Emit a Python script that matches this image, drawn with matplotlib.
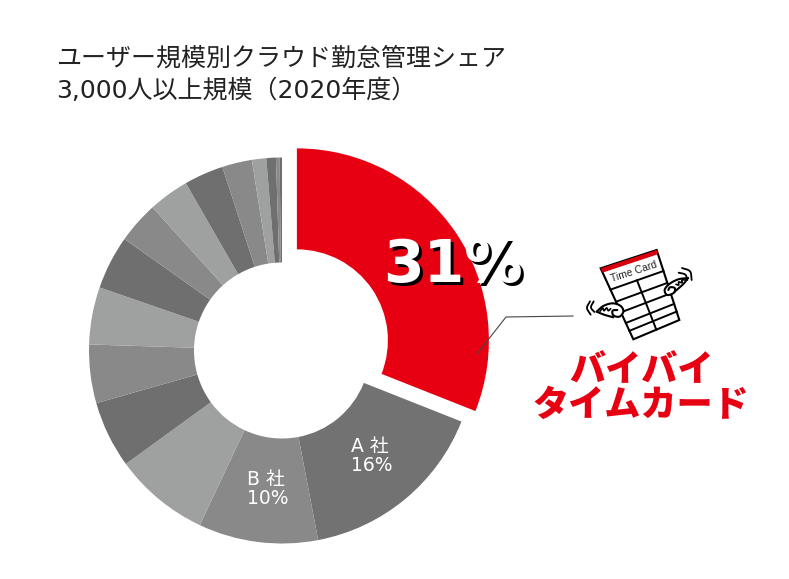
import numpy as np
import matplotlib
matplotlib.use("Agg")
import matplotlib.pyplot as plt

plt.rcParams['font.family'] = ['DejaVu Sans', 'Noto Sans CJK JP']

title_lines = ["ユーザー規模別クラウド勤怠管理シェア", "3,000人以上規模（2020年度）"]
shares = [31.0, 16.0, 10.0, 8.0, 5.6, 4.9, 4.8, 4.5, 3.5, 3.4, 3.3, 2.5, 1.2, 0.8, 0.3, 0.2]
colors = ["#e60012", "#727272", "#898989", "#9fa0a0", "#6f6f6f", "#898989", "#9fa0a0", "#6f6f6f",
          "#898989", "#9fa0a0", "#6f6f6f", "#898989", "#9fa0a0", "#6f6f6f", "#898989", "#6f6f6f"]
label_a = "A 社\n16%"
label_b = "B 社\n10%"
label_red = "31%"
slogan_1 = "バイバイ"
slogan_2 = "タイムカード"

W, H = 789, 579
fig = plt.figure(figsize=(W/100, H/100), dpi=100, facecolor="white")
ax = fig.add_axes([0, 0, 1, 1])


def Y(y):
    return H - y


R = 193.0
cx, cy = 282, 350.5
explode = [18.0] + [0] * (len(shares) - 1)
wedges, _ = ax.pie(shares, colors=colors, startangle=90, counterclock=False, radius=R, center=(cx, Y(cy)),
                   explode=explode, wedgeprops=dict(width=R - 88, linewidth=0), frame=False)
wedges[0].set_radius(192)
wedges[0].set_width(101)
ax.set_xlim(0, W)
ax.set_ylim(0, H)
ax.set_aspect("equal")
ax.axis("off")

for i, line in enumerate(title_lines):
    ax.text(56, Y(58.5 + 32 * i), line, fontsize=18, color="#222222", ha="left", va="center")

ax.text(351, Y(456), label_a, fontsize=13.5, color="white", ha="left", va="center", linespacing=1.05)
ax.text(247, Y(489), label_b, fontsize=13.5, color="white", ha="left", va="center", linespacing=1.05)

fp = dict(fontsize=42, fontweight="bold", family="DejaVu Sans", ha="center", va="baseline")
ax.text(456, Y(284.5), label_red, color="black", **fp)
ax.text(453, Y(282), label_red, color="white", **fp)

ax.plot([477, 506, 573], [Y(354), Y(317), Y(316)], color="#444444", lw=0.8)

ax.text(641, Y(370.5), slogan_1, fontsize=26, fontweight="black", family="Noto Sans CJK JP",
        color="#e60012", ha="center", va="center")
ax.text(641, Y(404.5), slogan_2, fontsize=26, fontweight="black", family="Noto Sans CJK JP",
        color="#e60012", ha="center", va="center")

# ---- time card illustration (zoom-crop coordinates: 3x, origin 580,240) ----
def Z(pts):
    a = np.asarray(pts, float)
    return 580 + a[:, 0] / 3, Y(240 + a[:, 1] / 3)


def smooth(pts, n=14):
    p = np.asarray(pts, float)
    p = np.vstack([2 * p[0] - p[1], p, 2 * p[-1] - p[-2]])
    out = []
    for i in range(1, len(p) - 2):
        for t in np.linspace(0, 1, n, endpoint=False):
            out.append(0.5 * ((2 * p[i]) + (-p[i - 1] + p[i + 1]) * t
                              + (2 * p[i - 1] - 5 * p[i] + 4 * p[i + 1] - p[i + 2]) * t ** 2
                              + (-p[i - 1] + 3 * p[i] - 3 * p[i + 1] + p[i + 2]) * t ** 3))
    out.append(p[-2])
    return np.array(out)


TL, TR, BR, BL = map(np.array, [(62, 85), (230, 30), (298, 240), (160, 298)])


def P(a, b):
    left = TL + (BL - TL) * b
    right = TR + (BR - TR) * b
    return left + (right - left) * a


xs, ys = Z([TL, TR, BR, BL])
ax.fill(xs, ys, fc="white", ec="black", lw=1.5, zorder=3)
xs, ys = Z([P(0, 0), P(1, 0), P(1, .06), P(0, .06)])
ax.fill(xs, ys, fc="#d7000f", ec="none", zorder=4)
for b in [.30, .47, .62, .77, .88]:
    xs, ys = Z([P(0, b), P(1, b)])
    ax.plot(xs, ys, color="black", lw=1.4, zorder=4)
xs, ys = Z([P(.5, .30), P(.5, 1)])
ax.plot(xs, ys, color="black", lw=1.4, zorder=4)
xs, ys = Z([P(.5, .18)])
ax.text(xs[0], ys[0], "Time Card", fontsize=7.5, family="Liberation Sans", color="#222222",
        ha="center", va="center", rotation=18, rotation_mode="anchor", zorder=5)

wing_strokes = [
    # left wing
    ([(50, 215), (70, 198), (98, 190), (122, 198), (130, 215), (118, 230), (100, 226), (98, 212), (112, 210)], 1.5, True),
    ([(50, 215), (72, 224), (100, 232)], 1.5, False),
    ([(60, 214), (68, 204), (72, 212), (80, 204), (85, 212), (92, 206)], 1.2, False),
    ([(30, 184), (21, 204), (32, 224)], 1.3, False),
    ([(41, 184), (33, 202), (43, 216)], 1.3, False),
    # right wing
    ([(324, 114), (295, 118), (268, 132), (254, 150), (262, 165), (282, 158), (284, 144), (270, 142), (265, 150)], 1.5, True),
    ([(324, 114), (310, 132), (284, 155)], 1.5, False),
    ([(316, 120), (306, 120), (306, 128), (296, 126), (296, 135), (288, 133)], 1.2, False),
    ([(306, 84), (330, 94), (335, 120)], 1.3, False),
    ([(296, 98), (316, 104), (322, 120)], 1.3, False),
]
for pts, lw, filled in wing_strokes:
    s = smooth(pts)
    xs, ys = Z(s)
    if filled:
        ax.fill(xs, ys, fc="white", ec="none", zorder=5)
    ax.plot(xs, ys, color="black", lw=lw, zorder=6, solid_capstyle="round")

fig.savefig("out.png", dpi=100, facecolor="white")
